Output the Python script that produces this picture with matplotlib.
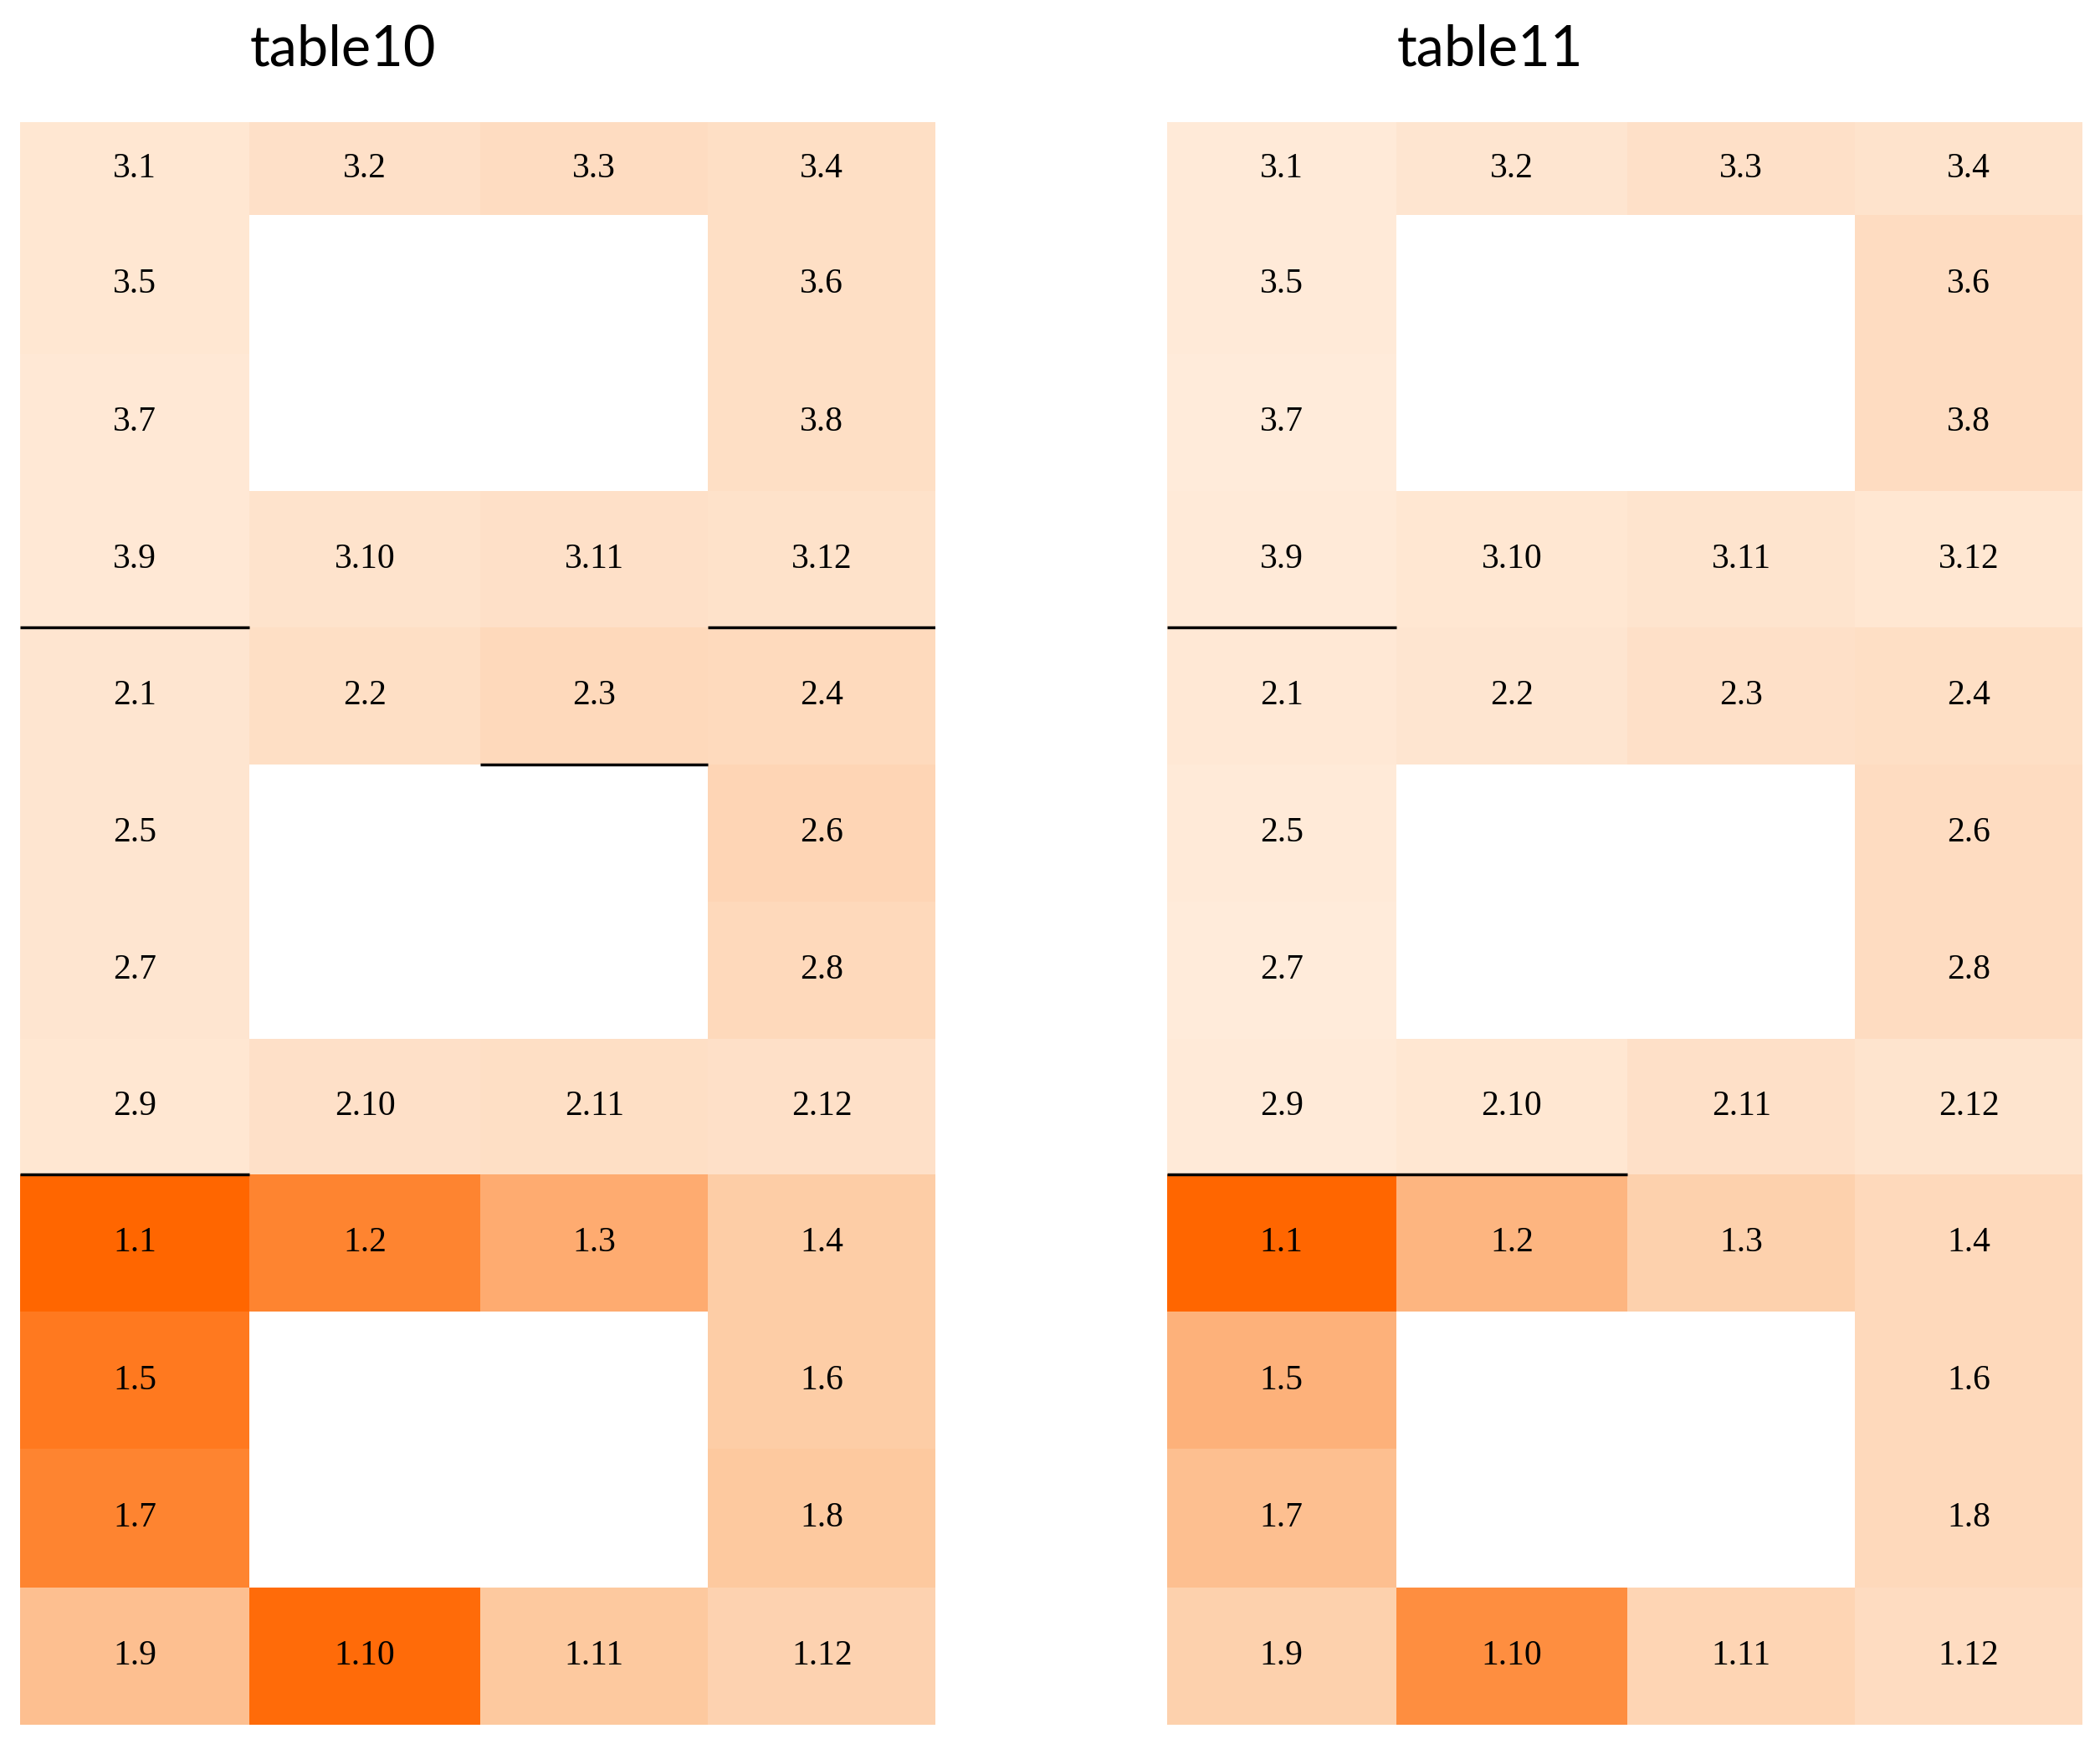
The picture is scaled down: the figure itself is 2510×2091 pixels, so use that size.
import numpy as np
import matplotlib.pyplot as plt
from matplotlib.colors import LinearSegmentedColormap

# cell labels, 12 rows x 4 cols, None = empty cell
labels = [
    ["3.1", "3.2", "3.3", "3.4"],
    ["3.5", None, None, "3.6"],
    ["3.7", None, None, "3.8"],
    ["3.9", "3.10", "3.11", "3.12"],
    ["2.1", "2.2", "2.3", "2.4"],
    ["2.5", None, None, "2.6"],
    ["2.7", None, None, "2.8"],
    ["2.9", "2.10", "2.11", "2.12"],
    ["1.1", "1.2", "1.3", "1.4"],
    ["1.5", None, None, "1.6"],
    ["1.7", None, None, "1.8"],
    ["1.9", "1.10", "1.11", "1.12"],
]

nan = np.nan
# colour intensity (0 = palest, 1 = darkest)
table10 = [
    [0.12, 0.20, 0.25, 0.22],
    [0.12, nan, nan, 0.22],
    [0.10, nan, nan, 0.22],
    [0.10, 0.17, 0.20, 0.18],
    [0.14, 0.22, 0.30, 0.28],
    [0.14, nan, nan, 0.34],
    [0.14, nan, nan, 0.30],
    [0.12, 0.20, 0.22, 0.20],
    [1.00, 0.85, 0.65, 0.45],
    [0.90, nan, nan, 0.45],
    [0.85, nan, nan, 0.50],
    [0.55, 0.97, 0.50, 0.38],
]
table11 = [
    [0.08, 0.14, 0.20, 0.17],
    [0.08, nan, nan, 0.25],
    [0.06, nan, nan, 0.25],
    [0.08, 0.12, 0.15, 0.12],
    [0.10, 0.14, 0.20, 0.22],
    [0.08, nan, nan, 0.25],
    [0.06, nan, nan, 0.25],
    [0.08, 0.12, 0.20, 0.15],
    [1.00, 0.60, 0.40, 0.30],
    [0.62, nan, nan, 0.30],
    [0.55, nan, nan, 0.30],
    [0.40, 0.80, 0.35, 0.25],
]
# black separator lines: (row boundary index, first col, last col + 1)
lines10 = [(4, 0, 1), (4, 3, 4), (5, 2, 3), (8, 0, 1)]
lines11 = [(4, 0, 1), (8, 0, 2)]

cmap = LinearSegmentedColormap.from_list("or", ["#fff0e2", "#fdc9a0", "#ff6600"])
x_edges = [0, 170, 342, 511, 680]
y_edges = [91, 160, 263, 365, 466, 568, 670, 772, 873, 975, 1077, 1180, 1282]

fig = plt.figure(figsize=(25.10, 20.91), dpi=100)
W, H = 1560, 1300

def draw(x0, vals, lines, title):
    ax = fig.add_axes([x0 / W, 1 - 1282 / H, 680 / W, (1282 - 91) / H])
    data = np.ma.masked_invalid(np.array(vals))
    ax.pcolormesh(x_edges, y_edges, data, cmap=cmap, vmin=0, vmax=1)
    ax.set_xlim(0, 680)
    ax.set_ylim(1282, 91)
    ax.axis("off")
    for r, row in enumerate(labels):
        for c, lab in enumerate(row):
            if lab is None:
                continue
            ax.text((x_edges[c] + x_edges[c + 1]) / 2, (y_edges[r] + y_edges[r + 1]) / 2,
                    lab, ha="center", va="center", fontsize=30,
                    family="Liberation Serif")
    for r, c0, c1 in lines:
        ax.plot([x_edges[c0], x_edges[c1]], [y_edges[r], y_edges[r]],
                color="black", lw=2.5, solid_capstyle="butt")
    fig.text((x0 + 240) / W, 1 - 37 / H, title, ha="center", va="center",
             fontsize=48, family="Lato")

draw(15, table10, lines10, "table10")
draw(867, table11, lines11, "table11")

fig.savefig("out.png", dpi=100)
